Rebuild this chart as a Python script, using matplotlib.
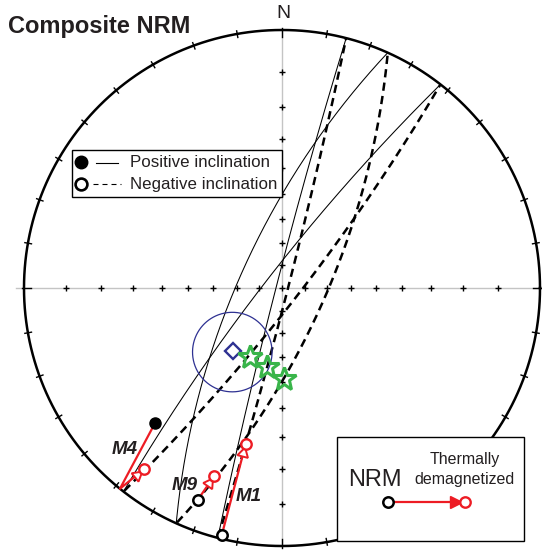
import numpy as np
import matplotlib.pyplot as plt
from matplotlib.patches import Rectangle

plt.rcParams['font.family'] = ['Liberation Sans', 'DejaVu Sans']

# remagnetization great circles: strike azimuth and dip (deg), dip direction = strike - 90
gc_strike = [14.4, 24.2, 37.9]
gc_dip = [87.4, 71.1, 82.6]

# NRM and thermally demagnetized directions (dec, inc)
samples = ['M4', 'M9', 'M1']
nrm_dec = [223.2, 201.7, 193.7]
nrm_inc = [18.5, -7.0, -0.8]
td_dec = [217.3, 199.8, 193.1]
td_inc = [-7.2, -14.6, -26.4]

# mean direction with a95
mean_dec, mean_inc, a95 = 217.8, -55.8, 16.0

# green stars
star_dec = [205.0, 190.6, 178.6]
star_inc = [-57.3, -55.5, -51.0]

RED = '#ed1c24'
BLUE = '#2e3192'
GREEN = '#39b54a'
TXT = '#231f20'

CX, CY, R = 282.0, 288.0, 258.0


def P(x, y):
    # pixel position of the reference -> net units
    return (x - CX) / R, (CY - y) / R


def vec(dec, inc):
    d, i = np.radians(dec), np.radians(inc)
    return np.array([np.cos(d) * np.cos(i), np.sin(d) * np.cos(i), np.sin(i)])


def to_di(v):
    v = np.asarray(v)
    return np.degrees(np.arctan2(v[..., 1], v[..., 0])), np.degrees(np.arcsin(np.clip(v[..., 2], -1, 1)))


def proj(dec, inc):
    # stereographic (Wulff), upper hemisphere points drawn at |inc|
    d = np.radians(dec)
    i = np.radians(np.abs(inc))
    r = np.tan((np.pi / 2 - i) / 2)
    return r * np.sin(d), r * np.cos(d)


fig = plt.figure(figsize=(5.42, 5.50), dpi=100)
ax = fig.add_axes([0, 0, 1, 1])
x0, y0 = P(0, 0)
x1, y1 = P(542, 550)
ax.set_xlim(x0, x1)
ax.set_ylim(y1, y0)
ax.axis('off')

# axes cross
ax.plot([-1.03, 1.03], [0, 0], color='#c4c4c4', lw=1.0, zorder=1)
ax.plot([0, 0], [-1.0, 1.0], color='#c4c4c4', lw=1.0, zorder=1)
rt = np.tan(np.radians(90 - np.arange(10, 90, 10)) / 2)
tx = np.concatenate([rt, -rt, np.zeros(len(rt) * 2), [0]])
ty = np.concatenate([np.zeros(len(rt) * 2), rt, -rt, [0]])
ax.plot(tx, ty, '+', color='k', ms=5, mew=1.0, zorder=2)

# primitive
th = np.linspace(0, 2 * np.pi, 721)
ax.plot(np.cos(th), np.sin(th), color='k', lw=1.8, zorder=4)
for az in range(0, 360, 10):
    a = np.radians(az)
    r_in, r_out = (0.972, 1.008) if az % 90 == 0 else (0.986, 1.012)
    ax.plot([r_in * np.sin(a), r_out * np.sin(a)], [r_in * np.cos(a), r_out * np.cos(a)],
            color='k', lw=1.0, zorder=4)

# great circles
t = np.linspace(0, 2 * np.pi, 1441)
for s, dp in zip(gc_strike, gc_dip):
    sv = vec(s, 0)
    mv = vec(s - 90, dp)
    v = np.outer(np.cos(t), sv) + np.outer(np.sin(t), mv)
    dec, inc = to_di(v)
    low = t <= np.pi
    ax.plot(*proj(dec[low], inc[low]), color='k', lw=0.75, zorder=3)
    ax.plot(*proj(dec[~low], inc[~low]), color='k', lw=1.8, dashes=(3.3, 2.1), zorder=3)

# a95 circle around the mean
m = vec(mean_dec, mean_inc)
u1 = np.cross(m, [0, 0, 1.0])
u1 /= np.linalg.norm(u1)
u2 = np.cross(m, u1)
phi = np.linspace(0, 2 * np.pi, 361)
ca = np.radians(a95)
sc = np.cos(ca) * m + np.sin(ca) * (np.outer(np.cos(phi), u1) + np.outer(np.sin(phi), u2))
ax.plot(*proj(*to_di(sc)), color=BLUE, lw=0.9, zorder=5)
ax.plot(*proj(mean_dec, mean_inc), 'D', ms=8, mfc='none', mec=BLUE, mew=1.7, zorder=6)

# stars
sx, sy = proj(np.array(star_dec), np.array(star_inc))
ax.plot(sx, sy, '*', ms=18, mfc='none', mec=GREEN, mew=2.2, zorder=6, ls='none')

# demagnetization paths
for name, d1, i1, d2, i2 in zip(samples, nrm_dec, nrm_inc, td_dec, td_inc):
    pts = [(d1, i1)]
    if i1 * i2 < 0:
        v1, v2 = vec(d1, i1), vec(d2, i2)
        vc = -v2[2] * v1 + v1[2] * v2
        vc /= np.linalg.norm(vc)
        pts.append(to_di(vc))
    pts.append((d2, i2))
    xs, ys = proj(np.array([p[0] for p in pts]), np.array([p[1] for p in pts]))
    ax.plot(xs, ys, color=RED, lw=1.6, zorder=7)
    dx, dy = xs[-1] - xs[-2], ys[-1] - ys[-2]
    ln = np.hypot(dx, dy)
    back = 9.5 / R
    ang = np.degrees(np.arctan2(dy, dx)) - 90
    ax.plot(xs[-1] - dx / ln * back, ys[-1] - dy / ln * back, marker=(3, 0, ang), ms=9,
            mfc='white', mec=RED, mew=1.4, zorder=8)
    ax.plot(xs[-1], ys[-1], 'o', ms=7.5, mfc='white', mec=RED, mew=1.7, zorder=8)
    if i1 > 0:
        ax.plot(xs[0], ys[0], 'o', ms=8, mfc='k', mec='k', zorder=8)
    else:
        ax.plot(xs[0], ys[0], 'o', ms=7.5, mfc='white', mec='k', mew=1.8, zorder=8)

lab_pos = {'M4': (125, 450), 'M9': (185, 485), 'M1': (249, 496.5)}
for name in samples:
    ax.text(*P(*lab_pos[name]), name, fontsize=13.5, fontweight='bold', style='italic',
            color=TXT, ha='center', va='center', zorder=9)

# titles
ax.text(*P(8, 27), 'Composite NRM', fontsize=17, fontweight='bold', color=TXT,
        ha='left', va='center')
ax.text(*P(283, 14), 'N', fontsize=14, color=TXT, ha='center', va='center')

# legend box
lx0, ly0 = P(71.7, 197.3)
lx1, ly1 = P(281.7, 150)
ax.add_patch(Rectangle((lx0, ly0), lx1 - lx0, ly1 - ly0, fc='white', ec='k', lw=1.0, zorder=10))
ax.plot(*P(81, 161.7), 'o', ms=9, mfc='k', mec='k', zorder=11)
ax.plot(*P(81, 184.3), 'o', ms=8.5, mfc='white', mec='k', mew=1.9, zorder=11)
ax.plot(*zip(P(96, 162.7), P(118.3, 162.7)), color='k', lw=0.8, zorder=11)
ax.plot(*zip(P(93, 184.3), P(121, 184.3)), color='k', lw=0.8, dashes=(4.5, 3.6), zorder=11)
ax.text(*P(130, 162.7), 'Positive inclination', fontsize=12.2, color=TXT, ha='left', va='center', zorder=11)
ax.text(*P(130, 184.3), 'Negative inclination', fontsize=12.2, color=TXT, ha='left', va='center', zorder=11)

# NRM key box
bx0, by0 = P(337, 541)
bx1, by1 = P(524, 437)
ax.add_patch(Rectangle((bx0, by0), bx1 - bx0, by1 - by0, fc='white', ec='k', lw=1.0, zorder=10))
ax.text(*P(375, 480), 'NRM', fontsize=17, color=TXT, ha='center', va='center', zorder=11)
ax.text(*P(465, 459.3), 'Thermally', fontsize=11.5, color=TXT, ha='center', va='center', zorder=11)
ax.text(*P(465, 479.3), 'demagnetized', fontsize=11.5, color=TXT, ha='center', va='center', zorder=11)
ax.plot(*zip(P(388.3, 501.7), P(465, 501.7)), color=RED, lw=1.6, zorder=11)
ax.plot(*P(456, 501.7), '>', ms=8.5, mfc=RED, mec=RED, zorder=12)
ax.plot(*P(465, 501.7), 'o', ms=7.5, mfc='white', mec=RED, mew=1.7, zorder=12)
ax.plot(*P(388.3, 501.7), 'o', ms=7.5, mfc='white', mec='k', mew=1.8, zorder=12)

fig.savefig('out.png', dpi=100)
